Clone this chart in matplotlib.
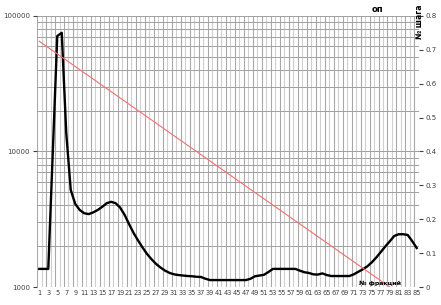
import matplotlib
matplotlib.use('Agg')
import matplotlib.pyplot as plt
from matplotlib.ticker import LogLocator, NullFormatter

# categories (fraction numbers)
fractions = list(range(1, 86))

# black series, log scale (left axis)
counts = [1360, 1360, 1360, 9800, 71000, 75000, 13700, 5200, 4100, 3700,
          3500, 3450, 3550, 3700, 3900, 4150, 4250, 4150, 3850, 3400,
          2900, 2500, 2200, 1950, 1750, 1600, 1480, 1390, 1320, 1270,
          1240, 1225, 1215, 1205, 1200, 1190, 1185, 1150, 1125, 1125,
          1125, 1125, 1125, 1125, 1125, 1125, 1125, 1150, 1200, 1215,
          1230, 1290, 1360, 1360, 1360, 1360, 1360, 1360, 1320, 1285,
          1270, 1240, 1235, 1260, 1225, 1205, 1205, 1205, 1205, 1205,
          1240, 1295, 1350, 1420, 1520, 1650, 1810, 1990, 2170, 2380,
          2450, 2450, 2420, 2180, 1940]

# red series on secondary axis (start and end)
step_x = [1, 79]
step_y = [0.725, 0.0]

x_labels = [str(i) if i % 2 == 1 else '' for i in fractions]

fig = plt.figure(figsize=(4.41, 3.05), dpi=100)
ax = fig.add_axes([0.084, 0.059, 0.866, 0.889])
ax2 = ax.twinx()

ax.plot(fractions, counts, color='black', lw=1.7, solid_joinstyle='round', zorder=3)
ax2.plot(step_x, step_y, color='#f07070', lw=0.8)

ax.set_yscale('log')
ax.set_ylim(1000, 100000)
ax.set_xlim(0.5, 85.5)
ax.set_yticks([1000, 10000, 100000])
ax.set_yticklabels(['1000', '10000', '100000'])
ax.yaxis.set_minor_locator(LogLocator(base=10, subs=range(2, 10)))
ax.yaxis.set_minor_formatter(NullFormatter())
ax.set_xticks(fractions)
ax.set_xticklabels(x_labels)

# vertical gridlines between categories, alternating shades
for i in range(0, 86):
    shade = '#a8a8a8' if i % 2 == 0 else '#d0d0d0'
    ax.axvline(i + 0.5, color=shade, lw=0.8, zorder=0)
ax.grid(True, which='both', axis='y', color='#a0a0a0', lw=0.7)
ax.set_axisbelow(True)

ax2.set_ylim(0, 0.8)
ax2.set_yticks([0, 0.1, 0.2, 0.3, 0.4, 0.5, 0.6, 0.7, 0.8])
ax2.set_yticklabels(['0', '0.1', '0.2', '0.3', '0.4', '0.5', '0.6', '0.7', '0.8'])

for a in (ax, ax2):
    for s in a.spines.values():
        s.set_visible(False)
ax.tick_params(axis='x', which='both', length=0, labelsize=4.8, pad=2, colors='#404040')
ax.tick_params(axis='y', which='major', length=3, labelsize=5, colors='#404040', pad=2)
ax.tick_params(axis='y', which='minor', length=0)
ax2.tick_params(axis='y', length=3, labelsize=5, colors='#404040', pad=2)

fig.text(0.855, 0.968, 'оп', fontsize=6, fontweight='bold', ha='center', va='center')
fig.text(0.952, 0.93, '№ шага', fontsize=5.5, fontweight='bold', rotation=90,
         ha='center', va='center')
fig.text(0.815, 0.072, '№ фракций', fontsize=4.5, fontweight='bold', ha='left', va='center')

fig.savefig('out.png', dpi=100)
